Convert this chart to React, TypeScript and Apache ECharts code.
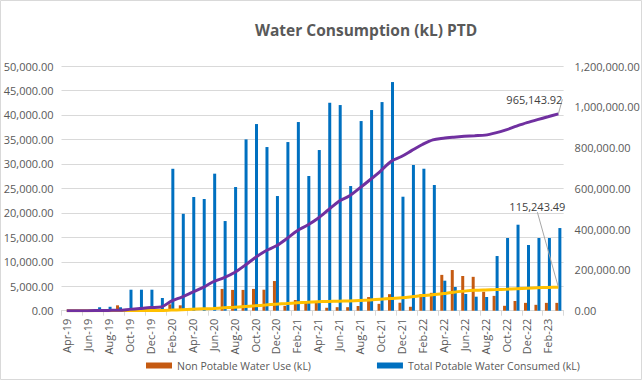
import React, { useEffect, useRef } from "react";
import * as echarts from "echarts";

const categories = [
  "Apr-19", "May-19", "Jun-19", "Jul-19", "Aug-19", "Sep-19", "Oct-19", "Nov-19", "Dec-19", "Jan-20",
  "Feb-20", "Mar-20", "Apr-20", "May-20", "Jun-20", "Jul-20", "Aug-20", "Sep-20", "Oct-20", "Nov-20",
  "Dec-20", "Jan-21", "Feb-21", "Mar-21", "Apr-21", "May-21", "Jun-21", "Jul-21", "Aug-21", "Sep-21",
  "Oct-21", "Nov-21", "Dec-21", "Jan-22", "Feb-22", "Mar-22", "Apr-22", "May-22", "Jun-22", "Jul-22",
  "Aug-22", "Sep-22", "Oct-22", "Nov-22", "Dec-22", "Jan-23", "Feb-23", "Mar-23",
];

const nonPotable = [
  0, 0, 0, 0, 0, 1100, 0, 0, 0, 0,
  1300, 1100, 0, 0, 0, 4450, 4250, 4250, 4450, 4290,
  6060, 1000, 2180, 1650, 1600, 600, 720, 720, 960, 2780,
  1400, 3380, 1630, 800, 3380, 3650, 7320, 8310, 7090, 6920,
  3880, 3030, 1000, 1980, 1600, 1200, 1600, 1600,
];

const potable = [
  0, 0, 0, 700, 800, 700, 4290, 4290, 4290, 2600,
  29000, 19800, 23230, 22820, 28000, 18320, 25270, 35010, 38140, 33440,
  23430, 34460, 38550, 27520, 32830, 42490, 42020, 25470, 38750, 41000,
  42630, 46720, 23290, 29770, 29010, 25680, 6130, 4840, 3410, 2860,
  2800, 11170, 14850, 17570, 13420, 14850, 14850, 16890,
];

const potableCumulative = [
  0, 0, 0, 700, 1500, 2200, 6500, 10800, 15100, 17700,
  47000, 67000, 90000, 113000, 142000, 161000, 186000, 221000, 260000, 293000,
  317000, 352000, 391000, 419000, 452000, 494000, 536000, 562000, 601000, 642000,
  685000, 732000, 756000, 786000, 815000, 838000, 846000, 851000, 855000, 858000,
  861000, 872000, 887000, 905000, 922000, 937000, 951000, 965143.92,
];

const nonPotableCumulative = [
  0, 0, 0, 0, 0, 1100, 1100, 1100, 1100, 1100,
  3000, 5000, 7000, 9000, 11000, 14000, 17000, 20500, 24000, 28000,
  32000, 35000, 38500, 41000, 43500, 45500, 46500, 48000, 50500, 53000,
  56500, 60000, 63000, 68000, 74000, 78000, 84000, 91000, 96000, 100000,
  102000, 103500, 105500, 108000, 110500, 112500, 114000, 115243.49,
];

const leftTicks = { min: 0, max: 50000, interval: 5000 };
const rightTicks = { min: 0, max: 1200000, interval: 200000 };

const fmt = (v: number) =>
  Number(v).toLocaleString("en-US", { minimumFractionDigits: 2, maximumFractionDigits: 2 });

const FONT = "'Open Sans', 'Liberation Sans', sans-serif";
const TXT = "#595959";
const GRID = "#D9D9D9";

function withEndLabel(values: number[]) {
  const last = values.length - 1;
  return values.map((v, i) =>
    i === last ? { value: v, label: { show: true } } : v
  );
}

export default function App() {
  const ref = useRef<HTMLDivElement>(null);

  useEffect(() => {
    document.body.style.margin = "0";
    if (!ref.current) return;
    const chart = echarts.init(ref.current, null, { renderer: "svg" });
    const endLabel = {
      show: false,
      position: "top",
      formatter: (p: any) => fmt(p.value),
      color: "#404040",
      fontSize: 11,
      fontFamily: FONT,
    };
    chart.setOption({
      animation: false,
      backgroundColor: "#ffffff",
      textStyle: { fontFamily: FONT },
      title: {
        text: "Water Consumption (kL) PTD",
        left: 250,
        top: 17,
        textStyle: { fontSize: 15.5, fontWeight: "bold", color: TXT, fontFamily: FONT },
      },
      legend: {
        data: ["Non Potable Water Use (kL)", "Total Potable Water Consumed (kL)"],
        left: 141,
        top: 355,
        icon: "rect",
        itemWidth: 26,
        itemHeight: 6,
        itemGap: 66,
        textStyle: { color: TXT, fontSize: 10.5, fontFamily: FONT },
      },
      grid: { left: 61.5, right: 79.4, top: 66, bottom: 70.3, containLabel: false },
      xAxis: {
        type: "category",
        data: categories,
        boundaryGap: true,
        axisLine: { lineStyle: { color: GRID } },
        axisTick: { show: true, interval: 1, length: 5, lineStyle: { color: GRID } },
        axisLabel: { interval: 1, rotate: 90, color: TXT, fontSize: 11, margin: 8, fontFamily: FONT },
      },
      yAxis: [
        {
          type: "value",
          ...leftTicks,
          axisLine: { show: false },
          axisTick: { show: false },
          splitLine: { lineStyle: { color: GRID } },
          axisLabel: { formatter: fmt, color: TXT, fontSize: 11, margin: 8, fontFamily: FONT },
        },
        {
          type: "value",
          ...rightTicks,
          axisLine: { show: false },
          axisTick: { show: false },
          splitLine: { show: false },
          axisLabel: { formatter: fmt, color: TXT, fontSize: 11, margin: 11, align: "left", fontFamily: FONT },
        },
      ],
      graphic: [
        {
          type: "rect",
          shape: { x: 0.5, y: 0.5, width: 641, height: 379 },
          style: { fill: "none", stroke: "#D9D9D9", lineWidth: 1 },
          silent: true,
        },
      ],
      series: [
        {
          name: "Non Potable Water Use (kL)",
          type: "bar",
          data: nonPotable,
          barWidth: 3,
          barGap: "0%",
          itemStyle: { color: "#C55A11" },
          yAxisIndex: 0,
        },
        {
          name: "Total Potable Water Consumed (kL)",
          type: "bar",
          data: potable,
          barWidth: 3,
          barGap: "0%",
          itemStyle: { color: "#0070C0" },
          yAxisIndex: 0,
        },
        {
          name: "Potable Cumulative",
          type: "line",
          yAxisIndex: 1,
          data: withEndLabel(potableCumulative),
          smooth: 0.3,
          symbol: "circle",
          symbolSize: 0.1,
          showSymbol: true,
          showAllSymbol: true,
          lineStyle: { color: "#7030A0", width: 3 },
          itemStyle: { color: "#7030A0" },
          label: endLabel,
          labelLayout: { dx: -24, dy: -4 },
          labelLine: { show: true, lineStyle: { color: "#A6A6A6", width: 1 } },
          z: 5,
        },
        {
          name: "Non Potable Cumulative",
          type: "line",
          yAxisIndex: 1,
          data: withEndLabel(nonPotableCumulative),
          smooth: 0.3,
          symbol: "circle",
          symbolSize: 0.1,
          showSymbol: true,
          showAllSymbol: true,
          lineStyle: { color: "#FFC000", width: 3 },
          itemStyle: { color: "#FFC000" },
          label: endLabel,
          labelLayout: { dx: -21, dy: -70 },
          labelLine: { show: true, lineStyle: { color: "#A6A6A6", width: 1 } },
          z: 4,
        },
      ],
    });
    return () => chart.dispose();
  }, []);

  return <div ref={ref} style={{ width: 643, height: 381 }} />;
}
